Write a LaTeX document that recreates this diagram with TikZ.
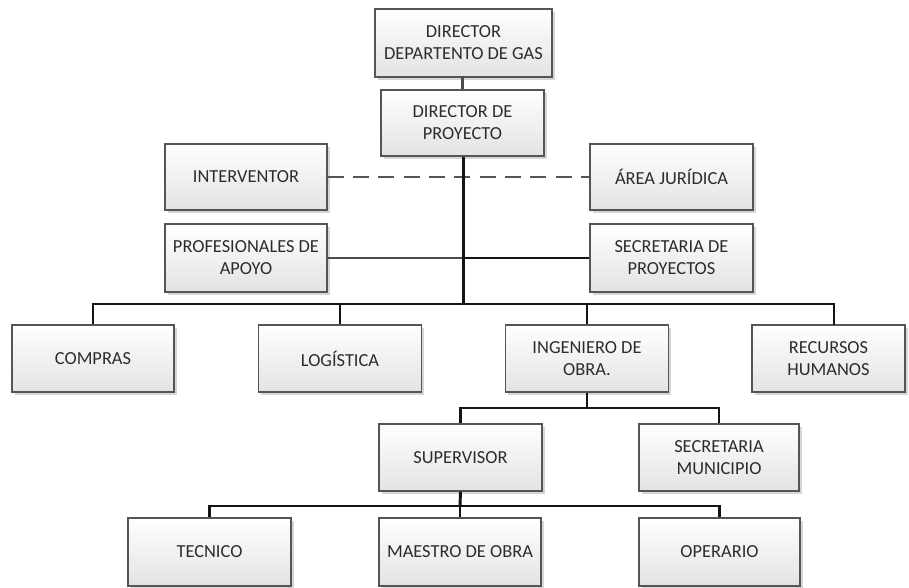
\documentclass[tikz,border=0pt]{standalone}
\usepackage{fontspec}
\setmainfont{Carlito}
\usetikzlibrary{shadows}
\definecolor{boxline}{HTML}{555555}
\definecolor{boxtext}{HTML}{2C2C2C}
\definecolor{linkline}{HTML}{141414}
\definecolor{dashline}{HTML}{555555}
\begin{document}
\begin{tikzpicture}[x=0.75pt,y=-0.75pt,
  box/.style={draw=boxline, line width=1pt, top color=white, bottom color=black!11,
    drop shadow={shadow xshift=2pt, shadow yshift=-2pt, fill=black, opacity=0.16},
    align=center, text=boxtext, inner sep=2pt,
    font=\fontsize{13.8}{16.5}\selectfont},
  sz/.style 2 args={minimum width=#1*0.75pt, minimum height=#2*0.75pt},
  link/.style={draw=linkline, line width=1.8pt},
  trunk/.style={draw=linkline, line width=2.2pt},
  dashlink/.style={draw=dashline, line width=2.2pt, dash pattern=on 12pt off 7pt},
  thinlink/.style={draw=black!70, line width=1.3pt}]
\useasboundingbox (0,0) rectangle (909,588);

% top of the chart
\node[box, sz={177}{68}] (dgas)  at (463.5,43)  {DIRECTOR\\DEPARTENTO DE GAS};
\node[box, sz={163}{66}] (dproy) at (462.5,123) {DIRECTOR DE\\PROYECTO};

% staff positions
\node[box, sz={162}{66}] (interv) at (246,177)   {INTERVENTOR};
\node[box, sz={163}{66}] (jur)    at (671.5,177) {ÁREA JURÍDICA};
\node[box, sz={162}{68}] (prof)   at (246,258)   {PROFESIONALES DE\\APOYO};
\node[box, sz={163}{68}] (secp)   at (671.5,258) {SECRETARIA DE\\PROYECTOS};

% departments
\node[box, sz={162}{67}] (compras)  at (93,358.5)    {COMPRAS};
\node[box, sz={163}{67}] (logis)    at (340,358.5)   {LOGÍSTICA};
\node[box, sz={163}{67}] (ingen)    at (587,358.5)   {INGENIERO DE\\OBRA.};
\node[box, sz={153}{67}] (recursos) at (828.5,358.5) {RECURSOS\\HUMANOS};

% site management
\node[box, sz={163}{67}] (sup)  at (460.5,457.5) {SUPERVISOR};
\node[box, sz={160}{67}] (secm) at (719,457.5)   {SECRETARIA\\MUNICIPIO};

% field staff
\node[box, sz={163}{68}] (tec)     at (209.5,552) {TECNICO};
\node[box, sz={162}{68}] (maestro) at (460,552)   {MAESTRO DE OBRA};
\node[box, sz={161}{68}] (oper)    at (719.5,552) {OPERARIO};

% junction points
\coordinate (b1) at (463.5,304);
\coordinate (rtop) at (834,325);
\coordinate (b2) at (587,408);
\coordinate (b3) at (460,506);

% connectors
\draw[trunk, draw=black!70] (dgas.south) -- (dproy.south |- dgas.south) -- (dproy.north);
\draw[dashlink] (interv) -- (jur);
\draw[thinlink] (prof.east) -- (prof.east -| b1);
\draw[link] (prof.east -| b1) -- (secp.west);
\draw[trunk] (dproy.south -| b1) -- (b1);
\draw[link] (compras.north) |- (b1) -| (rtop);
\draw[link] (logis.north) |- (b1);
\draw[link] (ingen.north) |- (b1);
\draw[trunk] (ingen.south) -- (b2);
\draw[link] (sup.north) |- (b2) -| (secm.north);
\draw[trunk] (sup.south) -- (b3);
\draw[link] (tec.north) |- (b3) -| (oper.north);
\draw[link] (b3) -- (maestro.north);
\end{tikzpicture}
\end{document}
